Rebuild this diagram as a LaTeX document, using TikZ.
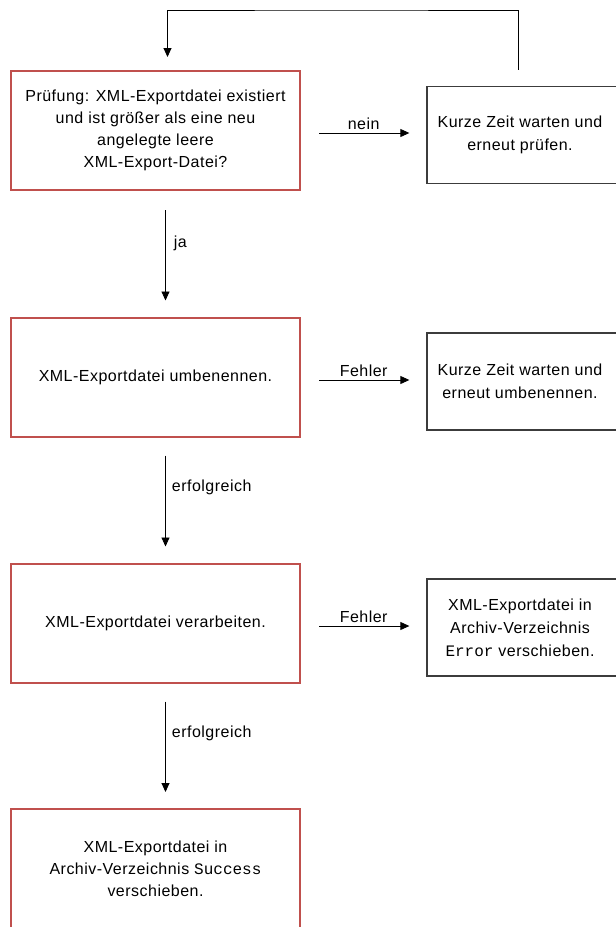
\documentclass[tikz,border=0pt]{standalone}
\usepackage{fontspec}
\setmainfont[LetterSpace=3]{Liberation Sans}
\setmonofont{Liberation Mono}
\usetikzlibrary{arrows.meta}
\definecolor{boxred}{RGB}{192,80,77}
\definecolor{boxgray}{RGB}{60,60,60}
\tikzset{
    rbox/.style={draw=boxred, line width=2pt, minimum width=289pt,
                 minimum height=119pt, align=center,
                 font=\fontsize{16}{22}\selectfont},
    gbox/.style={draw=boxgray, line width=1.3pt, minimum width=200pt,
                 minimum height=97pt},
    gtext/.style={align=center, font=\fontsize{16}{23}\selectfont},
    flow/.style={-{Triangle[length=9pt,width=8pt]}, line width=0.9pt},
    elabel/.style={font=\fontsize{16}{18}\selectfont, inner sep=2pt},
}
\begin{document}
\begin{tikzpicture}[x=1pt, y=-1pt]
    \path[use as bounding box, clip] (0,0) rectangle (616,927);
    % main column
    \node[rbox] (r1) at (155.5,130.5)
        {Prüfung: XML-Exportdatei existiert\\und ist größer als eine neu\\angelegte leere\\XML-Export-Datei?};
    \node[rbox] (r2) at (155.5,377) {XML-Exportdatei umbenennen.};
    \node[rbox] (r3) at (155.5,623) {XML-Exportdatei verarbeiten.};
    \node[rbox] (r4) at (155.5,868.5)
        {XML-Exportdatei in\\Archiv-Verzeichnis {\ttfamily Success}\\verschieben.};
    % side boxes
    \node[gbox] (w1) at (527,135) {};
    \node[gtext] (w1t) at (520,135) {Kurze Zeit warten und\\erneut prüfen.};
    \node[gbox] (w2) at (527,381.5) {};
    \node[gtext] (w2t) at (520,381.5) {Kurze Zeit warten und\\erneut umbenennen.};
    \node[gbox] (w3) at (527,627.5) {};
    \node[gtext] (w3t) at (520,627.5)
        {XML-Exportdatei in\\Archiv-Verzeichnis\\{\ttfamily Error} verschieben.};
    \coordinate (loop) at (340,10);
    % connectors
    \draw[flow, shorten <=18pt, shorten >=17pt] ([yshift=-2.5pt]r1.east) -- ([yshift=-2.5pt]r1.east -| w1.west)
        node[elabel, above, midway, yshift=1pt] {nein};
    \draw[flow, shorten <=18pt, shorten >=17pt] ([yshift=-3pt]r2.east) -- ([yshift=-3pt]r2.east -| w2.west)
        node[elabel, above, midway, yshift=1pt] {Fehler};
    \draw[flow, shorten <=18pt, shorten >=17pt] ([yshift=-3pt]r3.east) -- ([yshift=-3pt]r3.east -| w3.west)
        node[elabel, above, midway, yshift=1pt] {Fehler};
    \draw[flow, shorten <=16pt, shorten >=13pt] ([xshift=-9pt]w1.north) |- (loop) -| ([xshift=12pt]r1.north);
    \draw[flow, shorten <=19pt, shorten >=16pt] ([xshift=10pt]r1.south) -- ([xshift=10pt]r2.north)
        node[elabel, right, pos=0.42, xshift=6pt] {ja};
    \draw[flow, shorten <=18pt, shorten >=16pt] ([xshift=10pt]r2.south) -- ([xshift=10pt]r3.north)
        node[elabel, right, pos=0.4, xshift=4pt] {erfolgreich};
    \draw[flow, shorten <=18pt, shorten >=16pt] ([xshift=10pt]r3.south) -- ([xshift=10pt]r4.north)
        node[elabel, right, pos=0.4, xshift=4pt] {erfolgreich};
\end{tikzpicture}
\end{document}
